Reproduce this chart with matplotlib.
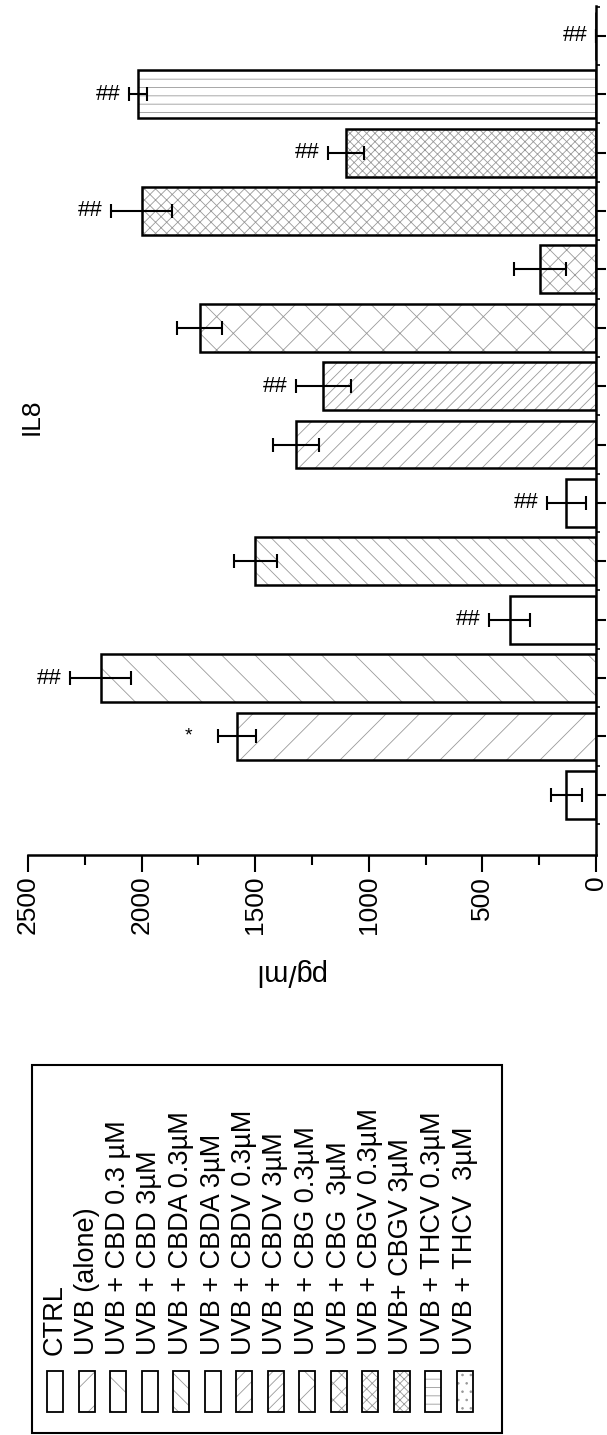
import matplotlib
matplotlib.use("Agg")
import matplotlib.pyplot as plt
from matplotlib.patches import Rectangle
from matplotlib.ticker import MultipleLocator

plt.rcParams['font.family'] = ['Liberation Sans', 'DejaVu Sans']
plt.rcParams['hatch.linewidth'] = 0.6

# chart data (IL8, pg/ml), first group at the bottom of the rotated figure
groups = ["CTRL", "UVB (alone)", "UVB + CBD 0.3 µM", "UVB + CBD 3µM",
          "UVB + CBDA 0.3µM", "UVB + CBDA 3µM", "UVB + CBDV 0.3µM",
          "UVB + CBDV 3µM", "UVB + CBG 0.3µM", "UVB + CBG  3µM",
          "UVB + CBGV 0.3µM", "UVB+ CBGV 3µM", "UVB + THCV 0.3µM",
          "UVB + THCV  3µM"]
means = [130, 1580, 2180, 380, 1500, 130, 1320, 1200, 1745, 245, 2000, 1100, 2015, 0]
errors = [70, 85, 135, 90, 95, 85, 100, 120, 100, 115, 135, 80, 40, 0]
marks = ["", "*", "##", "##", "", "##", "", "##", "", "", "##", "##", "##", "##"]
value_ticks = [0, 500, 1000, 1500, 2000, 2500]

hatches = ["", "/", "\\", "", "\\\\", "", "//", "///", "x", "xx", "xxx", "xxxx", "--", ".."]
hatch_col = "#999999"

W, H = 607, 1435
fig = plt.figure(figsize=(W / 100, H / 100), dpi=100)
ax = fig.add_axes([28 / W, 1 - 855 / H, 568 / W, 849 / H])

pos = list(range(len(groups)))
for i in pos:
    ax.barh(i, means[i], height=0.82, color="white", edgecolor=hatch_col,
            hatch=hatches[i], linewidth=0)
    ax.barh(i, means[i], height=0.82, fill=False, edgecolor="black", linewidth=1.8)
ax.errorbar(means, pos, xerr=errors, fmt="none", ecolor="black",
            elinewidth=1.5, capsize=5, capthick=1.5)

for i in pos:
    if marks[i] == "*":
        ax.annotate("*", xy=(means[i] + errors[i], i), xytext=(-21, 0),
                    textcoords="offset points", ha="center", va="center", fontsize=14)
    elif marks[i]:
        ax.annotate(marks[i], xy=(means[i] + errors[i], i), xytext=(-15, 0),
                    textcoords="offset points", ha="center", va="center", fontsize=16)

# value axis (drawn along the bottom, reversed)
ax.set_xlim(2500, 0)
ax.set_ylim(-1.03, 13.51)
ax.set_xticks(value_ticks)
ax.set_xticklabels([str(v) for v in value_ticks], rotation=90, fontsize=19)
ax.xaxis.set_minor_locator(MultipleLocator(250))
ax.tick_params(axis="x", which="major", length=12, width=1.5, pad=3)
ax.tick_params(axis="x", which="minor", length=7, width=1.5)

# category axis (drawn along the right side)
ax.yaxis.tick_right()
ax.set_yticks(pos)
ax.set_yticklabels([])
ax.set_yticks([i + 0.5 for i in range(-1, len(groups))], minor=True)
ax.tick_params(axis="y", which="major", length=7, width=1.5)
ax.tick_params(axis="y", which="minor", length=3, width=1.2)

for side in ["left", "top"]:
    ax.spines[side].set_visible(False)
for side in ["right", "bottom"]:
    ax.spines[side].set_linewidth(1.8)

fig.text(289 / W, 1 - 972 / H, "pg/ml", rotation=180, ha="center", va="center", fontsize=21)
fig.text(32 / W, 1 - 417 / H, "IL8", rotation=90, ha="center", va="center", fontsize=19)

# legend box, built by hand so it can be turned on its side
fig.add_artist(Rectangle((32 / W, 1 - 1433 / H), 470 / W, 368 / H, transform=fig.transFigure,
                         fill=False, edgecolor="black", linewidth=1.5))
for i, label in enumerate(groups):
    x = 55 + 31.5 * i
    fig.add_artist(Rectangle(((x - 8) / W, 1 - 1412 / H), 16 / W, 41 / H, transform=fig.transFigure,
                             facecolor="white", edgecolor=hatch_col, hatch=hatches[i], linewidth=0))
    fig.add_artist(Rectangle(((x - 8) / W, 1 - 1412 / H), 16 / W, 41 / H, transform=fig.transFigure,
                             fill=False, edgecolor="black", linewidth=1.3))
    fig.text(x / W, 1 - 1355 / H, label, rotation=90, ha="center", va="bottom", fontsize=19.5)

fig.savefig("out.png", dpi=100)
